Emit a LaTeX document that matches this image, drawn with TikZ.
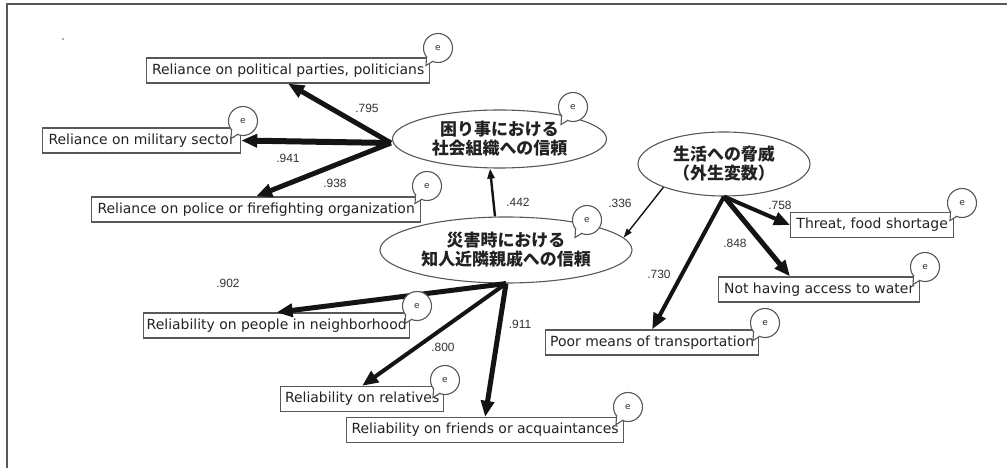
\documentclass[tikz,border=0pt]{standalone}
\usepackage{fontspec}
\setmainfont{DejaVu Sans}
\newfontfamily\jp{Noto Sans CJK JP}
\newfontfamily\lab{Liberation Sans}
\usetikzlibrary{arrows.meta,shapes.geometric,calc}
\definecolor{lg}{HTML}{585858}
\definecolor{txt}{HTML}{222222}
\definecolor{lblc}{HTML}{333333}
\definecolor{arc}{HTML}{141414}
\newcommand\etail[1]{%
  \filldraw[draw=lg, fill=white, line width=1.1bp]
    ($(#1.center)+(-4.75,13.06)$) -- ($(#1.center)+(-12,17.5)$) -- ($(#1.center)+(-11.4,7.97)$);}
\begin{document}
\begin{tikzpicture}[x=1bp,y=-1bp,
  box/.style={draw=lg, line width=1.3bp, rectangle, inner sep=0pt, minimum height=25bp,
    anchor=west, font=\fontsize{14}{16}\selectfont, text=txt},
  lat/.style={ellipse, draw=lg, line width=1.1bp, inner sep=0pt, align=center,
    font=\jp\bfseries\fontsize{17}{19}\selectfont, text=txt},
  lbl/.style={font=\lab\fontsize{12}{13}\selectfont, text=lblc, inner sep=0pt},
  ar/.style={line width=#1, draw=arc, -{Triangle[length=16bp,width=13bp]}},
  armid/.style={line width=2.4bp, draw=arc, -{Triangle[length=10bp,width=7bp]}},
  arthin/.style={line width=1.4bp, draw=arc, -{Triangle[length=9bp,width=6bp]}},
  ebub/.style={circle, draw=lg, fill=white, line width=1.1bp, minimum size=29bp,
    inner sep=0pt, font=\fontsize{9}{9}\selectfont, text=lblc}]
\useasboundingbox (0,0) rectangle (1007,468);
\fill[white] (0,0) rectangle (1007,468);
\draw[lg, line width=1.6bp] (7,468) -- (7,4) -- (1007,4);
\fill[lg] (63,39) circle (0.8);

% observed variables
\node[box, minimum width=283bp] (pp) at (146,70.5) {Reliance on political parties, politicians};
\node[box, minimum width=198bp] (ms) at (42,140.5) {Reliance on military sector};
\node[box, minimum width=329bp] (pf) at (91,209.5) {Reliance on police or firefighting organization};
\node[box, minimum width=266bp] (nb) at (143,325.5) {Reliability on people in neighborhood};
\node[box, minimum width=163bp] (rl) at (280,399) {Reliability on relatives};
\node[box, minimum width=277bp] (fr) at (346,430) {Reliability on friends or acquaintances};
\node[box, minimum width=163bp] (fs) at (790,225) {Threat, food shortage};
\node[box, minimum width=201bp] (wt) at (718,289.5) {Not having access to water};
\node[box, minimum width=213bp] (tr) at (545,342.5) {Poor means of transportation};

% latent variables
\node[lat, minimum width=214bp, minimum height=58bp] (so) at (499.5,139) {困り事における\\社会組織への信頼};
\node[lat, minimum width=252bp, minimum height=66bp] (di) at (506,250) {災害時における\\知人近隣親戚への信頼};
\node[lat, minimum width=172bp, minimum height=64bp] (th) at (724,164) {生活への脅威\\（外生変数）};

\coordinate (sw) at ($(so.west)+(-1,4)$);
\coordinate (wtin) at ($(wt.north west)+(72,0)$);
\coordinate (ditop) at ($(di.north)+(-11,0)$);
\coordinate (sobot) at ($(so.south)+(-9.5,0)$);

% paths
\draw[ar=5bp] (sw) -- (pp.south);
\draw[ar=6bp] (sw) -- (ms.east);
\draw[ar=5bp] (sw) -- (pf.north);
\draw[armid] (ditop) -- (sobot);
\draw[arthin] (th.201) -- (di.6);
\draw[ar=4bp] (th.south) -- (fs.west);
\draw[ar=5bp] (th.south) -- (wtin);
\draw[ar=4bp] (th.south) -- (tr.north);
\draw[ar=5bp] (di.south) -- (nb.north);
\draw[ar=4bp] (di.south) -- (rl.north);
\draw[ar=5bp] (di.south) -- (fr.north);

% coefficients
\node[lbl] (c795) at (367,108) {.795};
\node[lbl] (c941) at (288,158) {.941};
\node[lbl] (c938) at (335,183) {.938};
\node[lbl] (c442) at (518,202) {.442};
\node[lbl] (c336) at (620,203) {.336};
\node[lbl] (c758) at (780,205) {.758};
\node[lbl] (c848) at (735,243) {.848};
\node[lbl] (c730) at (659,274) {.730};
\node[lbl] (c902) at (228,283) {.902};
\node[lbl] (c800) at (443,347) {.800};
\node[lbl] (c911) at (520,324) {.911};

% error terms
\node[ebub] (e1) at (438,48) {e}; \etail{e1}
\node[ebub] (e2) at (243,121) {e}; \etail{e2}
\node[ebub] (e3) at (427,186) {e}; \etail{e3}
\node[ebub] (e4) at (573,107) {e}; \etail{e4}
\node[ebub] (e5) at (587,220) {e}; \etail{e5}
\node[ebub] (e6) at (417,306) {e}; \etail{e6}
\node[ebub] (e7) at (445,380) {e}; \etail{e7}
\node[ebub] (e8) at (628,407) {e}; \etail{e8}
\node[ebub] (e9) at (962,203) {e}; \etail{e9}
\node[ebub] (e10) at (925,267) {e}; \etail{e10}
\node[ebub] (e11) at (765,323) {e}; \etail{e11}
\end{tikzpicture}
\end{document}
